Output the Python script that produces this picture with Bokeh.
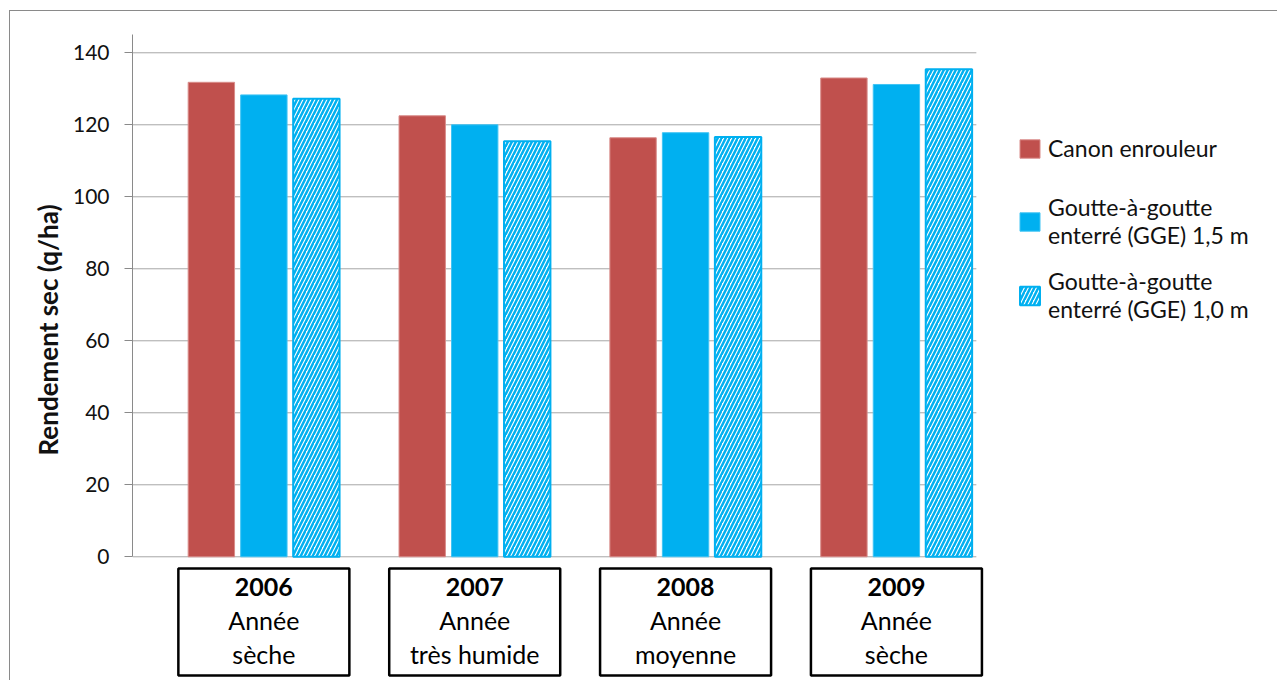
from bokeh.plotting import figure
from bokeh.models import ColumnDataSource, Range1d, Legend, LegendItem, FixedTicker, Title
from bokeh.transform import dodge
from bokeh.core.properties import value
from bokeh.embed import file_html
from bokeh.resources import INLINE

# ---- data ----
years = ["2006", "2007", "2008", "2009"]
line1 = ["Année", "Année", "Année", "Année"]
line2 = ["sèche", "très humide", "moyenne", "sèche"]
canon = [131.8, 122.5, 116.4, 133.0]
gge15 = [128.3, 120.0, 117.8, 131.2]
gge10 = [127.2, 115.4, 116.6, 135.4]
yticks = [0, 20, 40, 60, 80, 100, 120, 140]
y_title = "Rendement sec (q/ha)"
series_names = ["Canon enrouleur",
                "Goutte-à-goutte\nenterré (GGE) 1,5 m",
                "Goutte-à-goutte\nenterré (GGE) 1,0 m"]

RED = "#C0504D"
BLUE = "#00B0F0"
FONT = "Lato"
XL, XR_GRID, XR = -0.623, 3.379, 4.812

xpos = list(range(len(years)))
src = ColumnDataSource(dict(x=xpos, years=years, l1=line1, l2=line2,
                            canon=canon, gge15=gge15, gge10=gge10))

p = figure(width=1268, height=670, output_backend="svg", toolbar_location=None,
           x_range=Range1d(XL, XR), y_range=Range1d(-34.64, 151.47),
           x_axis_location=None, min_border_left=122, min_border_right=0,
           min_border_top=0, min_border_bottom=0)
p.styles = {"margin-left": "9px", "margin-top": "10px",
            "border-left": "1px solid #8a8a8a", "border-top": "1px solid #8a8a8a"}
p.outline_line_color = None
p.background_fill_color = "white"
p.border_fill_color = "white"
p.xgrid.visible = False
p.ygrid.visible = False

# gridlines (drawn only over the plot area)
gsrc = ColumnDataSource(dict(y=yticks, x0=[XL] * len(yticks), x1=[XR_GRID] * len(yticks)))
p.segment(x0="x0", x1="x1", y0="y", y1="y", source=gsrc, line_color="#a6a6a6", line_width=1)

# bars
W = 0.22
r1 = p.vbar(x=dodge("x", -0.249, range=p.x_range), top="canon", width=W, source=src,
            fill_color=RED, line_color="#d98c8a", line_width=1)
r2 = p.vbar(x=dodge("x", 0.0, range=p.x_range), top="gge15", width=W, source=src,
            fill_color=BLUE, line_color="#40c4f4", line_width=1)
r3 = p.vbar(x=dodge("x", 0.249, range=p.x_range), top="gge10", width=W, source=src,
            fill_color="white", line_color=BLUE, line_width=2,
            hatch_pattern="right_diagonal_line", hatch_color=BLUE,
            hatch_scale=8, hatch_weight=2.5)

# y axis
ax = p.yaxis[0]
ax.ticker = FixedTicker(ticks=yticks)
ax.bounds = (0, 145)
ax.axis_line_color = "#8a8a8a"
ax.major_tick_line_color = "#8a8a8a"
ax.major_tick_out = 8
ax.major_tick_in = 0
ax.minor_tick_line_color = None
ax.major_label_standoff = 15
ax.major_label_text_font = FONT
ax.major_label_text_font_size = "21px"
ax.major_label_text_color = "#111111"

# y axis title (as a left-panel title so it can be placed along the axis)
p.add_layout(Title(text=y_title, align="left", offset=226, standoff=12,
                   text_font=FONT, text_font_style="bold", text_font_size="26px",
                   text_color="#111111"), "left")

# category boxes
p.rect(x="x", y=-18.14, width=171, height=107, width_units="screen", height_units="screen",
       source=src, fill_color="white", line_color="black", line_width=2.5)
p.text(x="x", y=0, text="years", y_offset=30.5, source=src, text_align="center",
       text_baseline="alphabetic", text_font=value(FONT), text_font_style="bold",
       text_font_size="25px", text_color="black")
p.text(x="x", y=0, text="l1", y_offset=63.5, source=src, text_align="center",
       text_baseline="alphabetic", text_font=value(FONT), text_font_size="25px",
       text_color="black")
p.text(x="x", y=0, text="l2", y_offset=97.5, source=src, text_align="center",
       text_baseline="alphabetic", text_font=value(FONT), text_font_size="25px",
       text_color="black")

# legend (two blocks so the single-line item sits where the reference has it)
leg_style = dict(padding=0, margin=0, glyph_width=25, glyph_height=23, label_standoff=6,
                 label_text_font=FONT, label_text_font_size="23px",
                 label_text_line_height=1.28, label_text_color="#111111",
                 border_line_color=None, background_fill_alpha=0)
legend_a = Legend(items=[LegendItem(label=series_names[0], renderers=[r1])],
                  location=(885, 519), spacing=0, **leg_style)
legend_b = Legend(items=[LegendItem(label=series_names[1], renderers=[r2]),
                         LegendItem(label=series_names[2], renderers=[r3])],
                  location=(885, 358), spacing=18, **leg_style)
p.add_layout(legend_a)
p.add_layout(legend_b)

open("out.html", "w").write(file_html(p, INLINE))
